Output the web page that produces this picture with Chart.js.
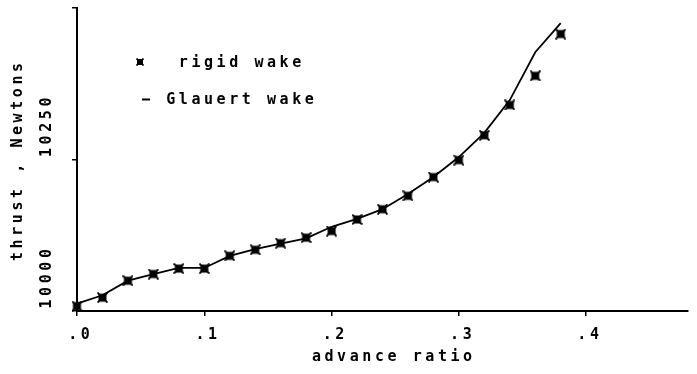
<!DOCTYPE html>
<html>
<head>
<meta charset="utf-8">
<script src="https://cdn.jsdelivr.net/npm/chart.js@4/dist/chart.umd.min.js"></script>
<style>
  html, body { margin: 0; padding: 0; background: #fff; }
  #wrap { width: 697px; height: 374px; position: relative; }
</style>
</head>
<body>
<div id="wrap"><canvas id="c"></canvas></div>
<script>
// Thrust against advance ratio for two wake models
const advanceRatio = [0.00, 0.02, 0.04, 0.06, 0.08, 0.10, 0.12, 0.14, 0.16, 0.18,
                      0.20, 0.22, 0.24, 0.26, 0.28, 0.30, 0.32, 0.34, 0.36, 0.38];
const rigidWake    = [10008, 10022, 10050, 10061, 10070, 10070, 10091, 10101, 10112, 10121,
                      10132, 10151, 10168, 10190, 10221, 10249, 10290, 10340, 10388, 10457];
const glauertWake  = [10012, 10026, 10050, 10061, 10071, 10071, 10091, 10102, 10111, 10120,
                      10139, 10152, 10168, 10193, 10221, 10254, 10294, 10348, 10427, 10475];
const seriesNames  = ['rigid wake', 'Glauert wake'];
const xTickValues  = [0, 0.1, 0.2, 0.3, 0.4];
const xTickLabels  = ['.0', '.1', '.2', '.3', '.4'];
const yTickValues  = [10000, 10250, 10500];
const yTickLabels  = ['10000', '10250', ''];
const xTitle = 'advance ratio';
const yTitle = 'thrust , Newtons';

const INK = '#000';
const FONT = 'bold 15px "DejaVu Sans Mono", "Liberation Mono", monospace';
const ADV = 12.6; // plotter-style character pitch

// square-with-crossed-corners marker
function makeMarker(size, inset) {
  const cv = document.createElement('canvas');
  cv.width = size; cv.height = size;
  const g = cv.getContext('2d');
  g.fillStyle = INK; g.strokeStyle = INK; g.lineWidth = 1.8;
  g.fillRect(inset, inset, size - 2 * inset, size - 2 * inset);
  g.beginPath();
  g.moveTo(0.5, 0.5); g.lineTo(size - 0.5, size - 0.5);
  g.moveTo(size - 0.5, 0.5); g.lineTo(0.5, size - 0.5);
  g.stroke();
  return cv;
}
const pointMarker = makeMarker(11, 1.5);
const legendMarker = makeMarker(8, 1);

function spacedText(ctx, text, cx, cy) {
  const start = cx - (text.length * ADV) / 2 + ADV / 2;
  for (let i = 0; i < text.length; i++) {
    ctx.fillText(text[i], start + i * ADV, cy);
  }
}

const labelsPlugin = {
  id: 'plotterLabels',
  afterDraw(chart) {
    const ctx = chart.ctx;
    const xs = chart.scales.x, ys = chart.scales.y;
    ctx.save();
    ctx.fillStyle = INK;
    ctx.strokeStyle = INK;
    ctx.font = FONT;
    ctx.textAlign = 'center';
    ctx.textBaseline = 'middle';

    // x tick labels
    xTickValues.forEach((v, i) => {
      spacedText(ctx, xTickLabels[i], xs.getPixelForValue(v) + 2, 335);
    });
    // x title
    spacedText(ctx, xTitle, 392, 357);

    // y tick labels, rotated, ending just above their tick
    yTickValues.forEach((v, i) => {
      const t = yTickLabels[i];
      if (!t) return;
      const py = ys.getPixelForValue(v);
      const len = (t.length - 1) * ADV + 8;
      ctx.save();
      ctx.translate(47.5, py - 3 - len / 2);
      ctx.rotate(-Math.PI / 2);
      spacedText(ctx, t, 0, 0);
      ctx.restore();
    });
    // y title
    ctx.save();
    ctx.translate(18, 162);
    ctx.rotate(-Math.PI / 2);
    spacedText(ctx, yTitle, 0, 0);
    ctx.restore();

    // legend
    const ds = chart.data.datasets;
    ctx.drawImage(legendMarker, 136, 58);
    spacedText(ctx, ds[0].label, 240, 63);
    ctx.lineWidth = 2;
    ctx.beginPath();
    ctx.moveTo(142, 99.5); ctx.lineTo(150, 99.5);
    ctx.stroke();
    spacedText(ctx, ds[1].label, 240, 100);
    ctx.restore();
  }
};

new Chart(document.getElementById('c'), {
  type: 'scatter',
  data: {
    datasets: [
      {
        label: seriesNames[0],
        data: advanceRatio.map((x, i) => ({ x, y: rigidWake[i] })),
        showLine: false,
        pointStyle: pointMarker,
        pointRadius: 5,
        clip: false
      },
      {
        label: seriesNames[1],
        data: advanceRatio.map((x, i) => ({ x, y: glauertWake[i] })),
        showLine: true,
        borderColor: INK,
        borderWidth: 1.8,
        tension: 0,
        pointRadius: 0,
        clip: false
      }
    ]
  },
  options: {
    responsive: true,
    maintainAspectRatio: false,
    animation: false,
    devicePixelRatio: 1,
    layout: { padding: { top: 8, right: 9, left: 0, bottom: 0 } },
    plugins: { legend: { display: false }, tooltip: { enabled: false } },
    scales: {
      x: {
        type: 'linear',
        min: 0, max: 0.48,
        border: { display: true, color: INK, width: 2 },
        grid: { display: true, drawOnChartArea: false, drawTicks: true, tickLength: 5, color: INK, lineWidth: 1.5 },
        ticks: { display: false },
        afterBuildTicks(scale) { scale.ticks = xTickValues.map(v => ({ value: v })); },
        afterFit(scale) { scale.height = 63; }
      },
      y: {
        type: 'linear',
        min: 10000, max: 10500,
        border: { display: true, color: INK, width: 2 },
        grid: { display: true, drawOnChartArea: false, drawTicks: true, tickLength: 5, color: INK, lineWidth: 1.5 },
        ticks: { display: false },
        afterBuildTicks(scale) { scale.ticks = yTickValues.map(v => ({ value: v })); },
        afterFit(scale) { scale.width = 77; }
      }
    }
  },
  plugins: [labelsPlugin]
});
</script>
</body>
</html>
